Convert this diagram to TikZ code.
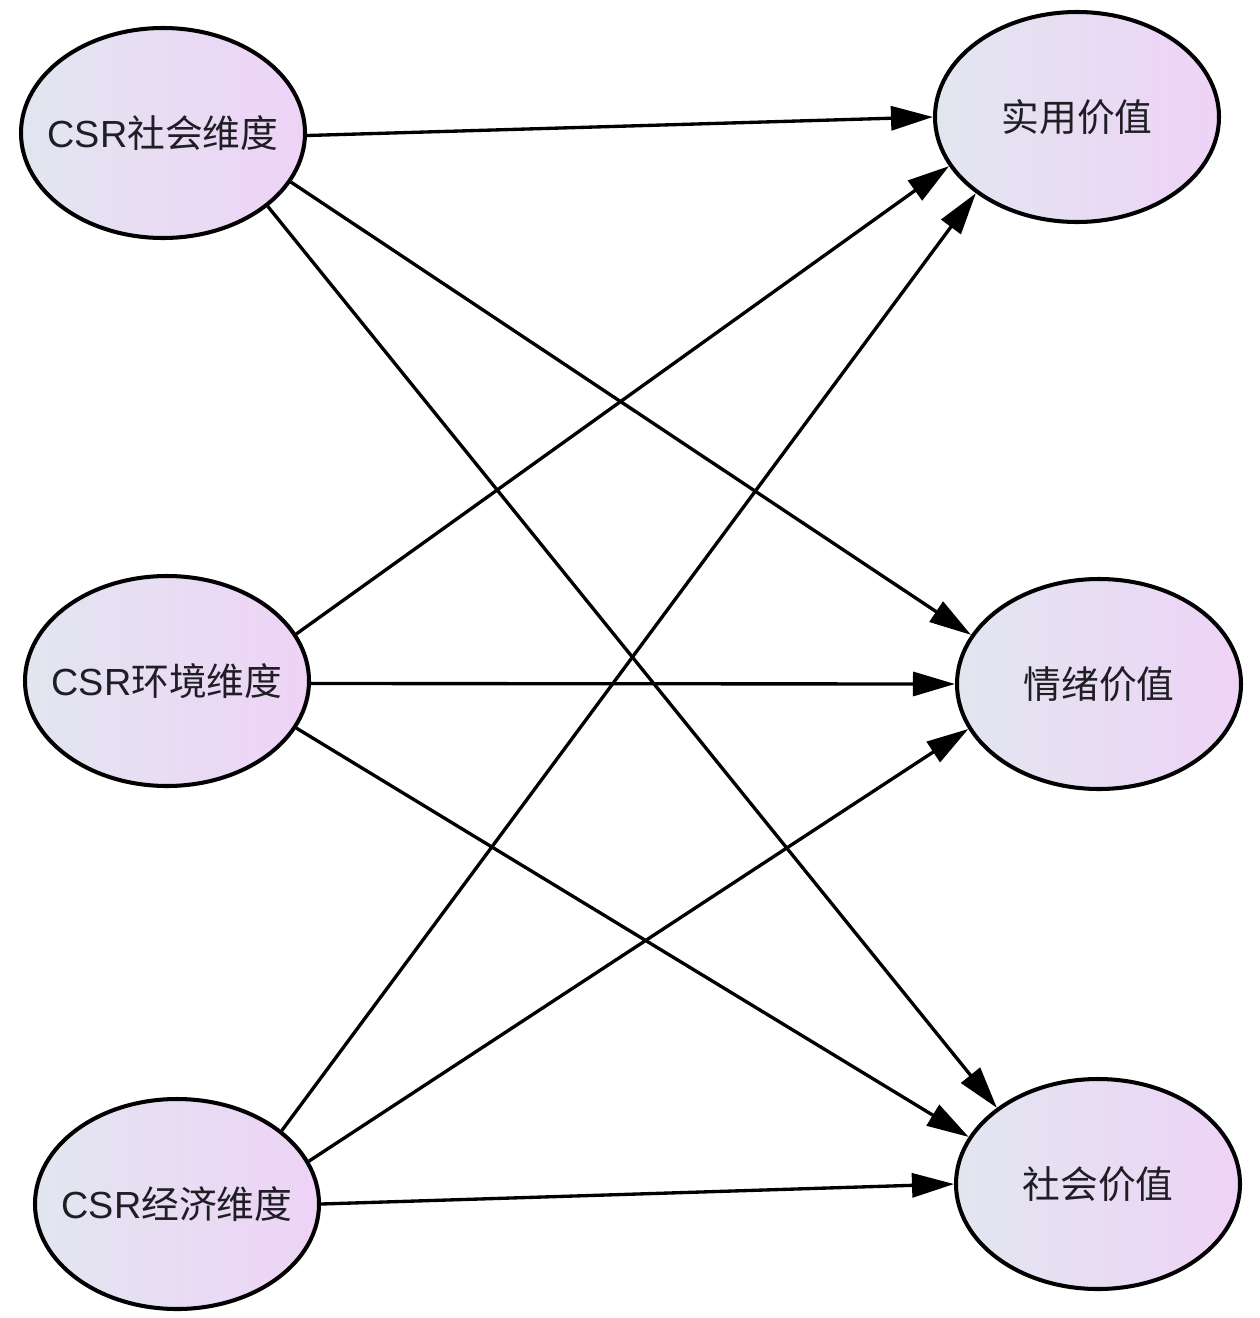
\documentclass[tikz,border=0pt]{standalone}
\usepackage{fontspec}
\setmainfont{Liberation Sans}
\newfontfamily\cjk{Noto Sans CJK SC}
\usetikzlibrary{shapes.geometric,arrows.meta}
\definecolor{shadeL}{RGB}{226,230,240}
\definecolor{shadeR}{RGB}{238,211,246}
\definecolor{txt}{RGB}{30,30,36}
\begin{document}
\begin{tikzpicture}[x=0.02cm,y=-0.02cm,
  oval/.style={ellipse, draw=black, line width=2.3pt, minimum width=284*0.02cm, minimum height=210*0.02cm,
    inner xsep=-40*0.02cm, inner ysep=0pt,
    left color=shadeL, right color=shadeR, text=txt, font=\fontsize{21.5pt}{24pt}\selectfont},
  link/.style={line width=1.9pt, -{Triangle[length=42*0.02cm, width=24*0.02cm]}}]
\useasboundingbox[fill=white] (0,0) rectangle (1260,1318);
\node[oval] (s1) at (163,133) {CSR{\cjk 社会维度}};
\node[oval] (e1) at (167,681) {CSR{\cjk 环境维度}};
\node[oval] (c1) at (177,1204) {CSR{\cjk 经济维度}};
\node[oval] (pv) at (1077,117) {\cjk 实用价值};
\node[oval] (ev) at (1099,684) {\cjk 情绪价值};
\node[oval] (sv) at (1098,1184) {\cjk 社会价值};
\draw[link] (s1.-1) -- (pv.180);
\draw[link] (s1.-21.2) -- (ev.159.4);
\draw[link] (s1.-35.2) -- (sv.143.6);
\draw[link] (e1.20.9) -- (pv.201.5);
\draw[link] (e1.-1) -- (ev.180);
\draw[link] (e1.-20) -- (sv.160.2);
\draw[link] (c1.35.7) -- (pv.217.2);
\draw[link] (c1.18.7) -- (ev.199.6);
\draw[link] (c1.0) -- (sv.180);
\end{tikzpicture}
\end{document}
